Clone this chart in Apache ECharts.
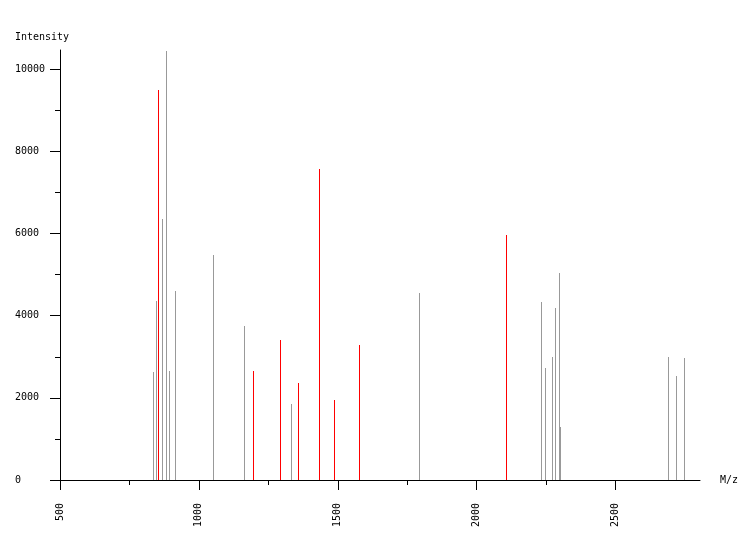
<!DOCTYPE html>
<html>
<head>
<meta charset="utf-8">
<script src="https://cdn.jsdelivr.net/npm/echarts@6/dist/echarts.min.js"></script>
<style>html,body{margin:0;padding:0;background:#fff;}#c{width:750px;height:540px;}</style>
</head>
<body>
<div id="c"></div>
<script>
// m/z positions and intensities (gray peaks)
const grayMz = [837, 848, 870, 884, 895, 917, 1053, 1165, 1334, 1794, 2233, 2247, 2273, 2283, 2298, 2301, 2690, 2719, 2747];
const grayIntensity = [2630, 4358, 6355, 10446, 2654, 4602, 5478, 3750, 1850, 4553, 4334, 2727, 2995, 4188, 5040, 1290, 2995, 2532, 2970];
// red (highlighted) peaks
const redMz = [855, 1197, 1294, 1359, 1435, 1488, 1578, 2107];
const redIntensity = [9496, 2654, 3409, 2362, 7572, 1948, 3287, 5965];
// tick labels
const xMajorTicks = [500, 1000, 1500, 2000, 2500];
const xMinorTicks = [750, 1250, 1750, 2250];
const yMajorTicks = [0, 2000, 4000, 6000, 8000, 10000];
const yMinorTicks = [1000, 3000, 5000, 7000, 9000];

const FONT = 'DejaVu Sans Mono';
const chart = echarts.init(document.getElementById('c'), null, {renderer: 'canvas'});

function peakSeries(mz, vals, color, name) {
  return {
    type: 'custom',
    name: name,
    xAxisIndex: 0, yAxisIndex: 0,
    data: mz.map((m, i) => [m, vals[i]]),
    renderItem: function (params, api) {
      const top = api.coord([api.value(0), api.value(1)]);
      const base = api.coord([api.value(0), 0]);
      const x = Math.floor(top[0]);
      return {
        type: 'rect',
        shape: {x: x, y: Math.round(top[1]), width: 1, height: Math.round(base[1]) - Math.round(top[1])},
        style: {fill: color}
      };
    },
    silent: true,
    animation: false
  };
}

const axisLineStyle = {show: true, lineStyle: {color: '#000', width: 1}};
const labelStyle = {color: '#000', fontFamily: FONT, fontSize: 10, formatter: function (v) { return String(v); }};

chart.setOption({
  animation: false,
  backgroundColor: '#fff',
  grid: {left: 60, right: 50, top: 50, bottom: 60, containLabel: false},
  xAxis: [{
    type: 'value', min: 500, max: 2804, position: 'bottom',
    name: 'M/z', nameLocation: 'end', nameGap: 20,
    nameTextStyle: {color: '#000', fontFamily: FONT, fontSize: 10, padding: [14, 0, 0, 0]},
    axisLine: axisLineStyle,
    axisTick: {show: true, inside: false, length: 10, customValues: xMajorTicks, lineStyle: {color: '#000'}},
    axisLabel: {show: true, customValues: xMajorTicks, rotate: 90, margin: 23, ...labelStyle},
    splitLine: {show: false}
  }, {
    type: 'value', min: 500, max: 2804, position: 'bottom',
    axisLine: {show: false},
    axisTick: {show: true, inside: false, length: 5, customValues: xMinorTicks, lineStyle: {color: '#000'}},
    axisLabel: {show: false, customValues: xMinorTicks},
    splitLine: {show: false}
  }],
  yAxis: [{
    type: 'value', min: 0, max: 10470, position: 'left',
    name: 'Intensity', nameLocation: 'end', nameGap: 8,
    nameTextStyle: {color: '#000', fontFamily: FONT, fontSize: 10, padding: [0, 36, 0, 0]},
    axisLine: axisLineStyle,
    axisTick: {show: true, inside: false, length: 10, customValues: yMajorTicks, lineStyle: {color: '#000'}},
    axisLabel: {show: true, customValues: yMajorTicks, align: 'left', margin: 45, ...labelStyle},
    splitLine: {show: false}
  }, {
    type: 'value', min: 0, max: 10470, position: 'left',
    axisLine: {show: false},
    axisTick: {show: true, inside: false, length: 5, customValues: yMinorTicks, lineStyle: {color: '#000'}},
    axisLabel: {show: false, customValues: yMinorTicks},
    splitLine: {show: false}
  }],
  series: [
    peakSeries(grayMz, grayIntensity, '#999999', 'other'),
    peakSeries(redMz, redIntensity, '#ff0000', 'matched')
  ]
});
</script>
</body>
</html>
